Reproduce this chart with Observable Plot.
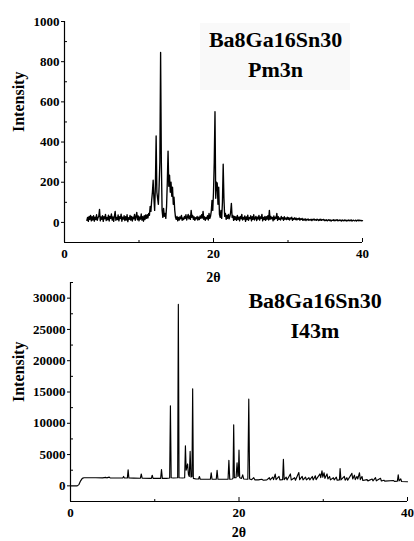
<!DOCTYPE html>
<html><head><meta charset="utf-8">
<script src="https://cdn.jsdelivr.net/npm/d3@7"></script>
<script src="https://cdn.jsdelivr.net/npm/@observablehq/plot@0.6"></script>
<style>
html,body{margin:0;padding:0;background:#fff;}
#wrap{position:relative;width:414px;height:541px;overflow:hidden;background:#fff;}
#wrap svg{position:absolute;left:0;top:0;}
#box{position:absolute;left:200px;top:23px;width:150px;height:67px;background:#f9f9f9;}
</style></head><body><div id="wrap"><div id="box"></div></div>
<script>
// ---------- Top panel (Pm3n) ----------
const topTitle = "Ba8Ga16Sn30\nPm3n";
const topStart = 3.0, topStep = 0.1; // measurement grid (2θ)
const topIntensity = [
  10, 25, 5, 30, 15, 35, 8, 28, 12, 33,
  6, 26, 14, 38, 10, 24, 30, 65, 8, 27,
  15, 34, 5, 29, 18, 40, 9, 25, 13, 36,
  7, 30, 20, 42, 11, 27, 5, 31, 55, 10,
  25, 14, 37, 8, 28, 19, 41, 6, 26, 16,
  33, 9, 29, 12, 38, 4, 24, 15, 35, 11,
  30, 7, 26, 18, 40, 10, 28, 50, 13, 32,
  8, 27, 16, 42, 11, 29, 6, 34, 14, 37,
  20, 38, 22, 45, 35, 80, 55, 110, 150, 210,
  120, 60, 180, 430, 150, 120, 90, 180, 300, 846,
  300, 60, 25, 70, 30, 45, 20, 80, 200, 355,
  180, 235, 150, 200, 130, 175, 90, 125, 60, 25,
  15, 30, 8, 25, 12, 28, 18, 35, 10, 22,
  14, 30, 20, 38, 12, 26, 40, 18, 32, 15,
  60, 25, 35, 15, 28, 10, 24, 18, 30, 12,
  26, 14, 32, 20, 38, 22, 55, 15, 28, 10,
  25, 18, 34, 12, 45, 20, 30, 55, 110, 60,
  150, 300, 551, 120, 200, 195, 90, 175, 40, 25,
  60, 20, 100, 290, 120, 30, 45, 15, 35, 20,
  40, 18, 30, 50, 95, 25, 35, 10, 30, 14,
  28, 10, 35, 15, 26, 8, 30, 18, 40, 12,
  25, 16, 32, 5, 27, 14, 36, 10, 24, 19,
  33, 8, 28, 15, 38, 12, 22, 30, 9, 26,
  17, 35, 11, 27, 20, 40, 8, 25, 14, 30,
  10, 28, 16, 34, 12, 60, 15, 30, 18, 25,
  8, 32, 14, 26, 20, 45, 10, 28, 15, 22,
  12, 30, 18, 24, 10, 28, 16, 22, 14, 26,
  15, 24, 12, 22, 18, 26, 10, 20, 16, 23,
  14, 21, 12, 19, 16, 22, 11, 18, 15, 20,
  10, 16, 12, 18, 9, 15, 13, 17, 10, 14,
  12, 16, 9, 15, 13, 17, 11, 14, 10, 16,
  13, 9, 15, 11, 16, 10, 14, 12, 15, 9,
  12, 9, 13, 8, 11, 14, 9, 12, 7, 11,
  10, 13, 8, 12, 9, 11, 14, 8, 10, 12,
  9, 11, 7, 12, 10, 8, 12, 9, 11, 7,
  10, 12, 8, 11, 9, 12, 7, 10, 11, 8,
  9, 11, 7, 10, 12, 8, 11, 9, 10, 8,
  9
];
const topXTicks = [0, 20, 40];
const topXMinor = [10, 30];
const topYTicks = [0, 200, 400, 600, 800, 1000];
const topYMinor = [-100, 100, 300, 500, 700, 900];
const topXDomain = [0, 40];
const topYDomain = [-100, 1000];

// ---------- Bottom panel (I43m) ----------
const botTitle = "Ba8Ga16Sn30\nI43m";
const botTheta = [
  0, 0.8, 1.0, 1.2, 1.4, 1.6, 3.0, 3.8, 4.2, 4.3, 4.6, 4.7, 6.2, 6.3, 6.4, 6.75, 6.84, 6.93,
  7.5, 8.3, 8.4, 8.5, 9.6, 9.7, 9.8, 10.7, 10.8, 10.9, 11.4, 11.77, 11.86, 11.95,
  12.2, 12.72, 12.8, 12.88, 13.3, 13.55, 13.64, 13.73, 13.9, 14.0, 14.1, 14.2, 14.3,
  14.42, 14.5, 14.58, 14.9, 15.2, 15.3, 15.4, 16.0, 16.6, 16.7, 16.8, 17.3, 17.4, 17.5,
  18.2, 18.7, 18.8, 18.9, 19.2, 19.29, 19.37, 19.45, 19.65, 19.77, 19.87, 19.92, 20.0,
  20.08, 20.3, 20.44, 20.55, 21.05, 21.16, 21.26, 21.5, 21.75, 21.9, 22.3, 22.7, 22.9,
  23.3, 23.6, 23.7, 24.0, 24.1, 24.3, 24.4, 24.75, 24.85, 25.18, 25.27, 25.36, 25.6, 25.7,
  26.1, 26.2, 26.6, 26.7, 27.1, 27.2, 27.5, 27.6, 27.9, 28.0, 28.3, 28.4, 28.7, 28.8,
  29.06, 29.15, 29.6, 29.7, 29.85, 29.95, 30.1, 30.2, 30.45, 30.55, 30.75, 30.85,
  31.2, 31.3, 31.55, 31.65, 31.92, 32.0, 32.1, 32.5, 32.6, 32.8, 32.9, 33.4, 33.5,
  33.7, 33.8, 34.0, 34.1, 34.3, 34.4, 34.6, 34.7, 35.2, 35.3, 35.8, 35.9, 36.2, 36.3,
  36.8, 36.9, 37.2, 37.3, 38.35, 38.45, 38.8, 38.9, 39.0, 39.2, 39.3, 40
];
const botIntensity = [
  0, 0, 200, 800, 1200, 1300, 1300, 1280, 1350, 1280, 1400, 1280, 1260, 1500, 1250, 1250, 2560, 1250,
  1230, 1220, 1900, 1220, 1200, 1700, 1200, 1200, 2600, 1200, 1200, 1250, 12800, 1300,
  1250, 1300, 29000, 1300, 1250, 1300, 6400, 2500, 3500, 1800, 1500, 5500, 1400,
  1500, 15500, 1200, 1100, 1100, 1500, 1050, 1050, 1050, 2100, 1050, 1050, 2500, 1050,
  1050, 1050, 4100, 1050, 1100, 1200, 9760, 1300, 1300, 3700, 1500, 1600, 5700,
  1300, 1200, 1760, 1100, 1050, 13850, 1100, 1000, 1300, 950, 950, 1050, 900,
  950, 1300, 950, 1400, 1000, 1870, 1000, 1500, 950, 1000, 4260, 1000, 1400, 950,
  1900, 950, 1300, 900, 2130, 1000, 1500, 950, 1400, 950, 1300, 950, 1500, 950,
  1600, 1000, 1900, 1300, 2400, 1400, 2100, 1200, 1900, 1100, 1500, 950,
  1300, 950, 1400, 900, 950, 2770, 950, 1500, 900, 1300, 900, 2000, 1100,
  1700, 1000, 1500, 1100, 2100, 1000, 1500, 850, 1000, 800, 1100, 800, 1300, 800,
  1200, 780, 900, 750, 850, 720, 750, 1760, 800, 1100, 700, 650
];
const botXTicks = [0, 20, 40];
const botXMinor = [10, 30];
const botYTicks = [0, 5000, 10000, 15000, 20000, 25000, 30000];
const botYMinor = [-2500, 2500, 7500, 12500, 17500, 22500, 27500, 32500];
const botXDomain = [0, 40];
const botYDomain = [-2500, 32500];

const yLabel = "Intensity";
const xLabel = "2θ";

// ---------- build ----------
const font = '"Liberation Serif", "Times New Roman", serif';
const topData = topIntensity.map((v, i) => ({theta: topStart + i * topStep, intensity: v}));
const botData = botTheta.map((t, i) => ({theta: t, intensity: botIntensity[i]}));

function panel(o) {
  return Plot.plot({
    width: 414, height: 541,
    marginTop: o.mt, marginBottom: o.mb, marginLeft: o.ml, marginRight: o.mr,
    x: {domain: o.xDomain},
    y: {domain: o.yDomain},
    style: {fontFamily: font, fontWeight: "bold", fontSize: "13px", background: "transparent", color: "black", overflow: "visible"},
    marks: [
      Plot.line(o.data, {x: "theta", y: "intensity", stroke: "black", strokeWidth: o.sw}),
      Plot.ruleX([o.xDomain[0]], {stroke: "black", strokeWidth: 1.2}),
      Plot.ruleY([o.yDomain[0]], {stroke: "black", strokeWidth: 1.2}),
      Plot.axisY(o.yTicks, {tickSize: 3, tickPadding: 2, label: null, tickFormat: d => `${d}`, stroke: "black", strokeOpacity: 1}),
      Plot.axisY(o.yMinor, {tickSize: 3, dx: 3, text: null, label: null, stroke: "black", strokeOpacity: 1}),
      Plot.axisX(o.xTicks, {tickSize: 0, tickPadding: 6, label: null, tickFormat: d => `${d}`}),
      Plot.axisX(o.xTicks, {tickSize: 4, dy: -4, text: null, label: null, stroke: "black", strokeOpacity: 1}),
      Plot.axisX(o.xMinor, {tickSize: 2, dy: -2, text: null, label: null, stroke: "black", strokeOpacity: 1}),
      Plot.text([yLabel], {frameAnchor: "left", rotate: -90, dx: o.ylDx, dy: o.ylDy, fontSize: 16, fill: "black"}),
      Plot.text([xLabel], {frameAnchor: "bottom", dy: o.xlDy, lineAnchor: "bottom", fontSize: 14, fill: "black"}),
      Plot.text([o.title], {frameAnchor: "top", dx: o.tDx, dy: 4, lineAnchor: "top", fontSize: 22, lineHeight: 1.36, fill: "black"})
    ]
  });
}

const wrap = document.getElementById("wrap");
wrap.appendChild(panel({
  data: topData, xDomain: topXDomain, yDomain: topYDomain, sw: 1.35,
  xTicks: topXTicks, xMinor: topXMinor, yTicks: topYTicks, yMinor: topYMinor,
  mt: 21, mb: 299, ml: 64, mr: 52, ylDx: -46, ylDy: 0, xlDy: 39, tDx: 62, title: topTitle
}));
wrap.appendChild(panel({
  data: botData, xDomain: botXDomain, yDomain: botYDomain, sw: 1.15,
  xTicks: botXTicks, xMinor: botXMinor, yTicks: botYTicks, yMinor: botYMinor,
  mt: 282, mb: 40, ml: 70, mr: 7, ylDx: -52, ylDy: 10, xlDy: 35, tDx: 76, title: botTitle
}));
</script>
</body></html>
